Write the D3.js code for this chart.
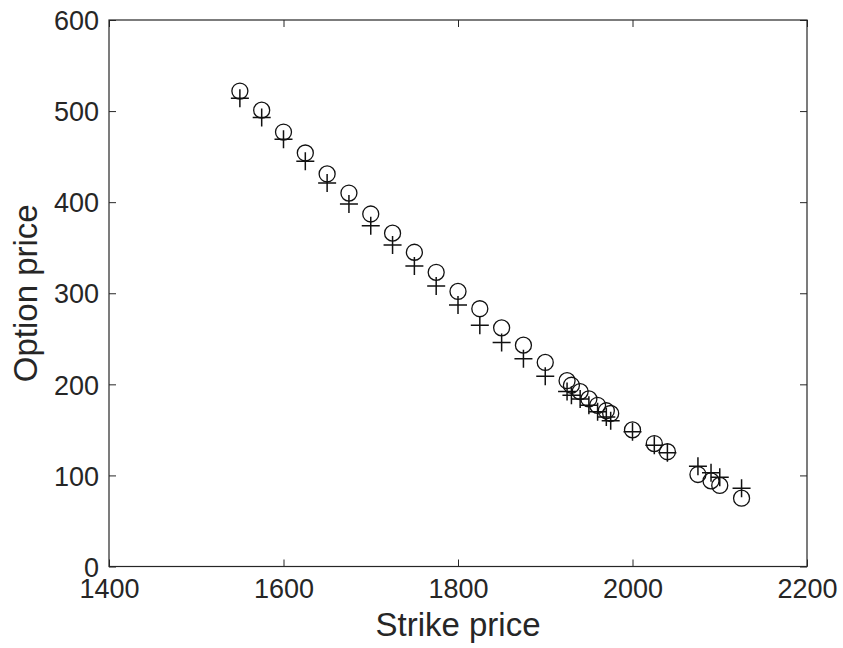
<!DOCTYPE html>
<html>
<head>
  <meta charset="utf-8">
  <title>Option price vs strike</title>
  <script src="https://d3js.org/d3.v7.min.js"></script>
  <style>
    body { margin: 0; background: #fff; }
    svg text { font-family: "Liberation Sans", Arial, Helvetica, sans-serif; fill: #262626; }
  </style>
</head>
<body>
  <svg id="chart" width="843" height="648"></svg>
  <script>
    // strike prices
    var strikes = [1550, 1575, 1600, 1625, 1650, 1675, 1700, 1725, 1750, 1775, 1800, 1825, 1850, 1875, 1900,
      1925, 1930, 1940, 1950, 1960, 1970, 1975, 2000, 2025, 2040, 2075, 2090, 2100, 2125];
    // circles (market)
    var marketPrices = [522, 501, 477, 454, 431, 410, 387, 366, 345, 323, 302, 283, 262, 243, 224,
      204, 199, 192, 184, 177, 171, 168, 150, 135, 126, 101, 94, 89, 75];
    // plus signs (model)
    var modelPrices = [514, 493, 469, 445, 421, 398, 374, 353, 330, 308, 287, 265, 246, 228, 209,
      192, 188, 184, 177, 170, 164, 160, 148, 133, 125, 110, 103, 98, 86];
    var xTicks = [1400, 1600, 1800, 2000, 2200];
    var yTicks = [0, 100, 200, 300, 400, 500, 600];

    var pL = 109, pR = 807, pT = 20, pB = 566.5;
    var svg = d3.select("#chart");
    var x = d3.scaleLinear().domain([1400, 2200]).range([pL, pR]);
    var y = d3.scaleLinear().domain([0, 600]).range([pB, pT]);
    var ink = "#262626";

    // ticks inside, on every side of the box
    svg.append("g").attr("transform", "translate(0," + pB + ")")
      .call(d3.axisBottom(x).tickValues(xTicks).tickSizeInner(-7).tickSizeOuter(0).tickFormat(d3.format("d")))
      .call(g => g.selectAll("text").attr("dy", "0").attr("y", 31).style("font-size", "27px"));
    svg.append("g").attr("transform", "translate(0," + pT + ")")
      .call(d3.axisTop(x).tickValues(xTicks).tickSizeInner(-7).tickSizeOuter(0).tickFormat(""));
    svg.append("g").attr("transform", "translate(" + pL + ",0)")
      .call(d3.axisLeft(y).tickValues(yTicks).tickSizeInner(-7).tickSizeOuter(0))
      .call(g => g.selectAll("text").attr("x", -10).attr("dy", "0.36em").style("font-size", "27px"));
    svg.append("g").attr("transform", "translate(" + pR + ",0)")
      .call(d3.axisRight(y).tickValues(yTicks).tickSizeInner(-7).tickSizeOuter(0).tickFormat(""));
    svg.selectAll(".domain").remove();
    svg.selectAll(".tick line").attr("stroke", ink).attr("stroke-width", 1);

    svg.append("rect")
      .attr("x", pL).attr("y", pT)
      .attr("width", pR - pL).attr("height", pB - pT)
      .attr("fill", "none").attr("stroke", ink).attr("stroke-width", 1.2);

    svg.append("text")
      .attr("x", (pL + pR) / 2).attr("y", 636)
      .attr("text-anchor", "middle").style("font-size", "33px")
      .text("Strike price");
    svg.append("text")
      .attr("transform", "translate(37," + (pT + pB) / 2 + ") rotate(-90)")
      .attr("text-anchor", "middle").style("font-size", "33px")
      .text("Option price");

    var market = strikes.map((s, i) => ({ k: s, v: marketPrices[i] }));
    var model = strikes.map((s, i) => ({ k: s, v: modelPrices[i] }));

    svg.append("g").selectAll("circle")
      .data(market)
      .enter()
      .append("circle")
      .attr("cx", d => x(d.k))
      .attr("cy", d => y(d.v))
      .attr("r", 8)
      .attr("fill", "none")
      .attr("stroke", "#111")
      .attr("stroke-width", 1.3);

    svg.append("g").selectAll("path")
      .data(model)
      .enter()
      .append("path")
      .attr("d", d => "M" + (x(d.k) - 9) + "," + y(d.v) + "H" + (x(d.k) + 9) +
        "M" + x(d.k) + "," + (y(d.v) - 9) + "V" + (y(d.v) + 9))
      .attr("fill", "none")
      .attr("stroke", "#111")
      .attr("stroke-width", 1.5);
  </script>
</body>
</html>
